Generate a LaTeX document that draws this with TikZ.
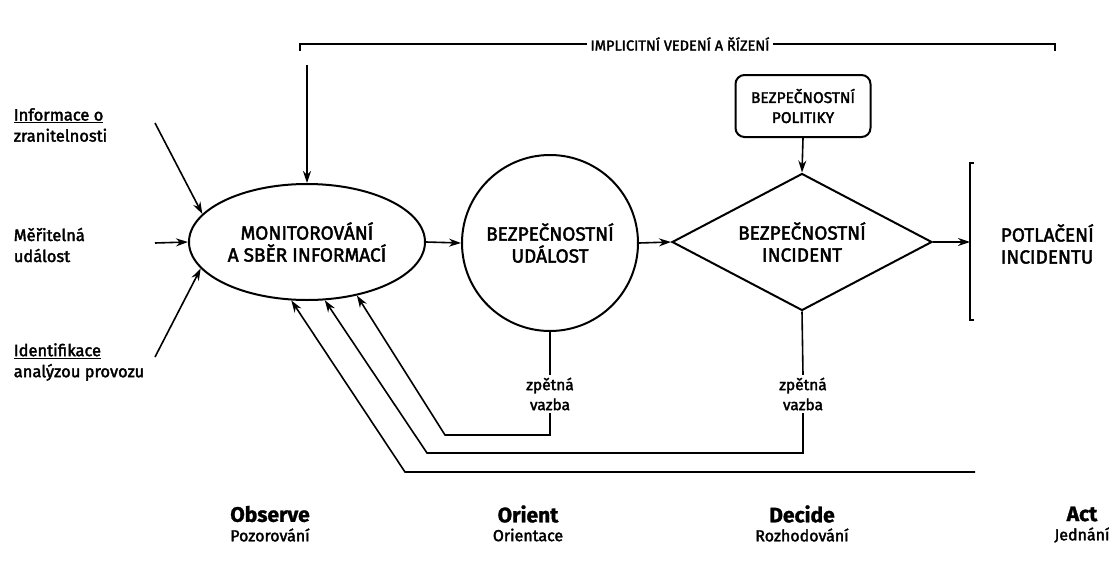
\documentclass[tikz,border=0pt]{standalone}
\usepackage{fontspec}
\setmainfont{Fira Sans}
\newfontfamily\fb{Fira Sans}[FakeBold=2.2]
\newfontfamily\fbb{Fira Sans}[FakeBold=1.2]
\usetikzlibrary{shapes.geometric,arrows.meta}
\begin{document}
\begin{tikzpicture}[x=1pt,y=-1pt,
  line width=1.6pt,
  >={Stealth[length=12pt,width=8pt]},
  shapeline/.style={draw, line width=2pt, inner sep=0pt},
  bigtext/.style={font=\fb\fontsize{19}{22}\selectfont, align=center},
  lbl/.style={font=\fb\fontsize{16.5}{21}\selectfont, align=left, anchor=west, inner sep=0pt},
  fbl/.style={font=\fb\fontsize{15.5}{20}\selectfont, align=center, fill=white, inner sep=2pt},
  phase/.style={font=\fbb\bfseries\fontsize{21}{22}\selectfont, inner sep=0pt},
  phasesub/.style={font=\fb\fontsize{16}{18}\selectfont, inner sep=0pt}
]
\useasboundingbox (0,0) rectangle (1109,570);
\fill[white] (0,0) rectangle (1109,570);

% main nodes
\node[shapeline, ellipse, minimum width=236pt, minimum height=116pt, bigtext] (mon) at (307,242) {MONITOROVÁNÍ\\A SBĚR INFORMACÍ};
\node[shapeline, circle, minimum size=176pt, bigtext] (ev) at (550,243) {BEZPEČNOSTNÍ\\UDÁLOST};
\node[shapeline, diamond, aspect=1.9, minimum width=260pt, minimum height=137pt, bigtext] (inc) at (802,242) {BEZPEČNOSTNÍ\\INCIDENT};
\node[shapeline, rectangle, rounded corners=9pt, minimum width=135pt, minimum height=62pt, font=\fb\fontsize{15.5}{20}\selectfont, align=center] (pol) at (803,106) {BEZPEČNOSTNÍ\\POLITIKY};
\node[bigtext, align=left, anchor=west, inner sep=0pt] (pot) at (1000,244) {POTLAČENÍ\\INCIDENTU};

% bracket in front of POTLAČENÍ
\coordinate (brk) at (970,242);
\draw[line width=2pt] (974,163) -- (970,163) -- (970,320) -- (974,320);

% top bracket
\node[font=\fb\fontsize{14.5}{16}\selectfont, inner sep=3pt] (ttl) at (680,44) {IMPLICITNÍ VEDENÍ A ŘÍZENÍ};
\draw (300,51) -- (300,44) -- (ttl.west);
\draw (ttl.east) -- (1055,44) -- (1055,51);
\coordinate (topin) at (307,65);

% left labels
\node[lbl] (l1) at (13,125) {\underline{Informace o}\\zranitelnosti};
\node[lbl] (l2) at (13,245) {Měřitelná\\událost};
\node[lbl] (l3) at (13,362) {\underline{Identifikace}\\analýzou provozu};
\coordinate (a1) at (155,123);
\coordinate (a2) at (155,243);
\coordinate (a3) at (155,357);

% feedback labels
\node[fbl] (z1) at (550,394) {zpětná\\vazba};
\node[fbl] (z2) at (803,394) {zpětná\\vazba};
\coordinate (c1a) at (550,435);
\coordinate (c1b) at (445,435);
\coordinate (c2a) at (803,453);
\coordinate (c2b) at (427,453);
\coordinate (c3a) at (975,472);
\coordinate (c3b) at (405,472);

% connectors
\draw[->] (a1) -- (mon.165);
\draw[->] (a2) -- (mon.west);
\draw[->] (a3) -- (mon.194);
\draw[->] (topin) -- (mon.north);
\draw[->] (mon.east) -- (ev.west);
\draw[->] (ev.east) -- (inc.west);
\draw[->] (inc.east) -- (brk);
\draw[->] (pol.south) -- (inc.north);

\draw (ev.south) -- (z1.north);
\draw[->] (z1.south) -- (c1a) -- (c1b) -- (mon.313);
\draw (inc.south) -- (z2.north);
\draw[->] (z2.south) -- (c2a) -- (c2b) -- (mon.287);
\draw[->] (c3a) -- (c3b) -- (mon.255);

% phases
\node[phase] (obs) at (270,514) {Observe};
\node[phasesub] (obs2) at (270,535) {Pozorování};
\node[phase] (ori) at (528,514) {Orient};
\node[phasesub] (ori2) at (528,535) {Orientace};
\node[phase] (dec) at (802,514) {Decide};
\node[phasesub] (dec2) at (802,535) {Rozhodování};
\node[phase] (act) at (1082,514) {Act};
\node[phasesub] (act2) at (1082,535) {Jednání};
\end{tikzpicture}
\end{document}
